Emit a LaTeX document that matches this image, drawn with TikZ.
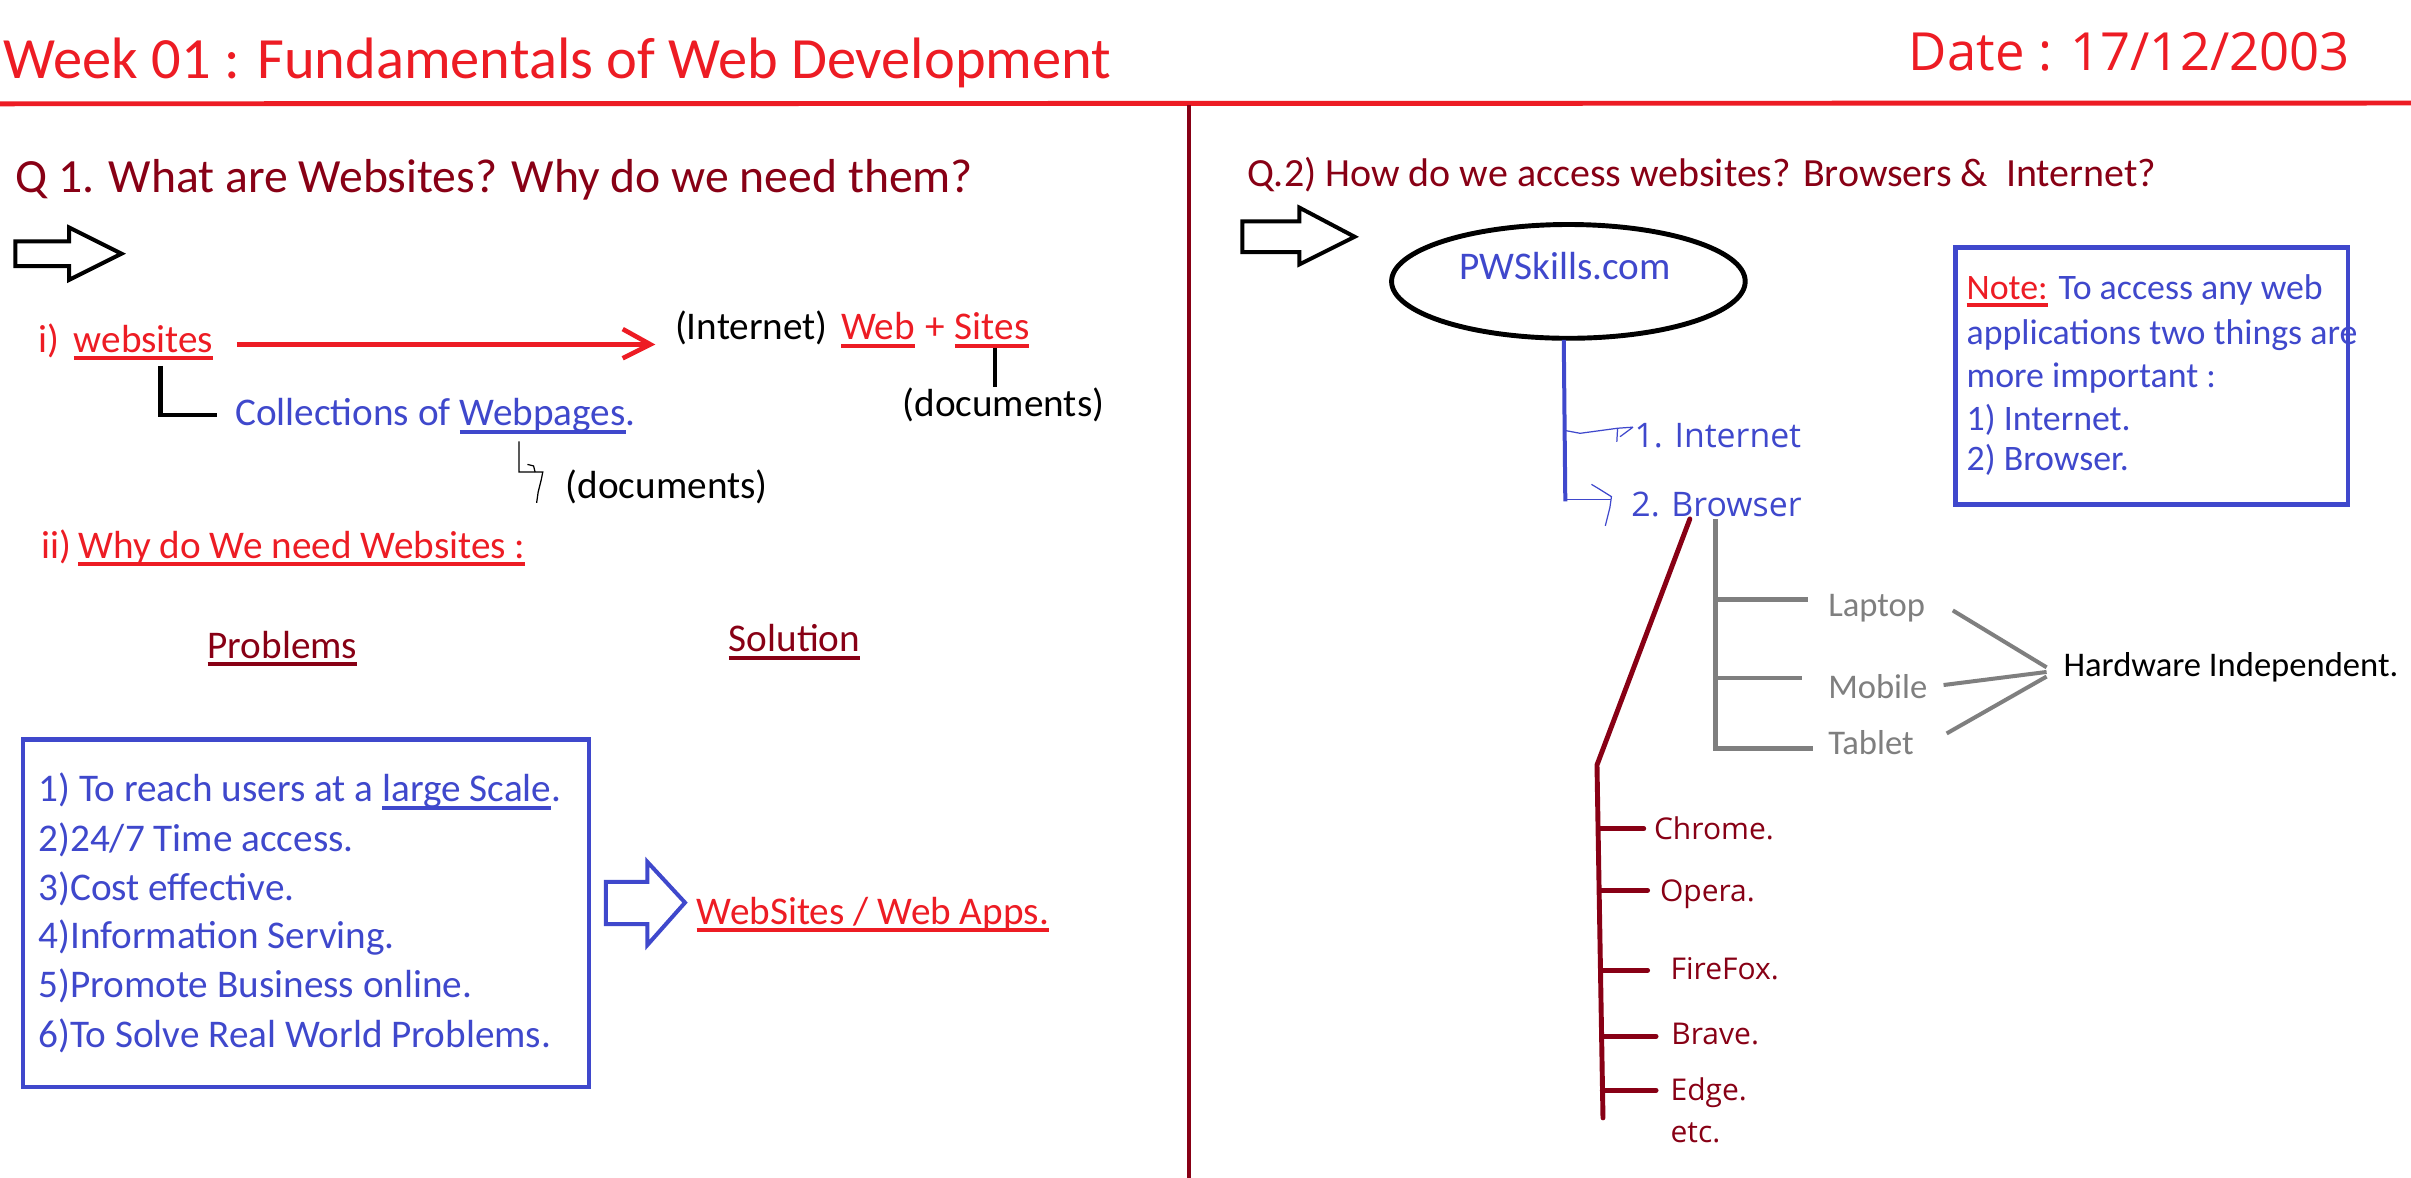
\documentclass[tikz,border=0pt]{standalone}
\usepackage{fontspec}
\setmainfont{Carlito}
\newfontfamily\seg{Open Sans}
\usetikzlibrary{shapes.geometric}
\definecolor{pred}{HTML}{ED1C24}
\definecolor{dred}{HTML}{880015}
\definecolor{pblue}{HTML}{3F48CC}
\definecolor{pgray}{HTML}{7F7F7F}
\newcommand\ulx[1]{\setbox0\hbox{#1}\rlap{\rule[-0.2em]{\wd0}{0.1em}}#1}
\begin{document}
\begin{tikzpicture}[x=1pt,y=-1pt,
  txt/.style={anchor=base west,inner sep=0pt,outer sep=0pt},
  body/.style={txt,font=\fontsize{25.5}{30}\selectfont},
  small/.style={txt,font=\fontsize{22.5}{27}\selectfont},
  brw/.style={txt,text=dred,font=\seg\fontsize{19.5}{23}\selectfont},
  outarrow/.style={line width=2.6pt,line join=miter},
  tree/.style={dred,line width=3.2pt,line cap=round},
  gtree/.style={pgray,line width=3pt},
  thin/.style={line width=0.8pt}]
\useasboundingbox (0,0) rectangle (1568,766);
\fill[white] (0,0) rectangle (1568,766);

% header
\node[txt,text=pred,font=\fontsize{38}{46}\selectfont] (title) at (2.5,51) {Week 01 : Fundamentals of Web Development};
\node[txt,text=pred,font=\seg\fontsize{34.2}{41}\selectfont] (date) at (1241.5,46) {Date : 17/12/2003};
\coordinate (hl) at (0,67.5); \coordinate (hr) at (1568,67);
\draw[pred,line width=3.2pt] (hl) -- (hr);
\coordinate (dt) at (773,68); \coordinate (db) at (773,766);
\draw[dred,line width=2.6pt] (dt) -- (db);

% ---------- left ----------
\node[txt,text=dred,font=\fontsize{31}{37}\selectfont] (q1) at (10,125.4) {Q 1. What are Websites? Why do we need them?};
\draw[outarrow] (10,157) -- (45,157) -- (45,148) -- (79,165) -- (45,182) -- (45,173) -- (10,173) -- cycle;

\node[body,text=pred] (i1) at (25,229) {i)};
\node[body,text=pred] (websites) at (48,229) {\ulx{websites}};
\coordinate (ras) at (154,224); \coordinate (rae) at (423,224);
\draw[pred,line width=3pt] (ras) -- (rae);
\draw[pred,line width=3pt,line join=miter] (405,214) -- (rae) -- (405,233);

\node[body] (internet) at (439,221) {(Internet)};
\node[body,text=pred] (web) at (547,221) {\ulx{Web}};
\node[body,text=pred] (plus) at (602,221) {+};
\node[body,text=pred] (sites) at (621,221) {\ulx{Sites}};
\coordinate (st) at (647,226); \coordinate (sb) at (647,252);
\draw[line width=2.6pt] (st) -- (sb);
\node[body] (doc1) at (587,271) {(documents)};

\coordinate (lt) at (104.5,238); \coordinate (lb) at (104.5,270); \coordinate (lr) at (141,270);
\draw[line width=3pt] (lt) -- (lb) -- (lr);
\node[body,text=pblue] (coll) at (153,277) {Collections of \ulx{Webpages}.};

\coordinate (sq1) at (337.6,287); \coordinate (sq2) at (349,327);
\draw[thin] (sq1) -- (337.6,307) -- (353,307) -- (352,312) -- (350,320) -- (sq2);
\draw[thin] (343,302) -- (347,303) -- (348,307);
\node[body] (doc2) at (368,324) {(documents)};

\node[body,text=pred] (ii) at (27,363) {ii)};
\node[body,text=pred] (why) at (51,363) {\ulx{Why do We need Websites :}};

\node[body,text=dred] (prob) at (135,428) {\ulx{Problems}};
\node[body,text=dred] (sol) at (474,424) {\ulx{Solution}};

\node[draw=pblue,line width=3pt,minimum width=368pt,minimum height=226pt,inner sep=0pt] (pbox) at (199,594) {};
\node[body,text=pblue] (p1) at (25,521.5) {1) To reach users at a \ulx{large Scale}.};
\node[body,text=pblue] (p2) at (25,554) {2)24/7 Time access.};
\node[body,text=pblue] (p3) at (25,585.5) {3)Cost effective.};
\node[body,text=pblue] (p4) at (25,617) {4)Information Serving.};
\node[body,text=pblue] (p5) at (25,649) {5)Promote Business online.};
\node[body,text=pblue] (p6) at (25,681) {6)To Solve Real World Problems.};

\draw[outarrow,pblue] (394,573.5) -- (421,573.5) -- (421,560.5) -- (445.5,587) -- (421,614.6) -- (421,601) -- (394,601) -- cycle;
\node[body,text=pred] (apps) at (453,601) {\ulx{WebSites / Web Apps.}};

% ---------- right ----------
\node[txt,text=dred,font=\fontsize{26}{31}\selectfont] (q2) at (811,121.6) {Q.2) How do we access websites? Browsers \&~ Internet?};
\draw[outarrow] (808,144) -- (845,144) -- (845,135) -- (881,154) -- (845,172) -- (845,164) -- (808,164) -- cycle;

\node[draw,ellipse,line width=3.2pt,minimum width=230pt,minimum height=74pt,inner sep=0pt] (pw) at (1020,183) {};
\node[body,text=pblue] (pwtext) at (949,182) {PWSkills.com};

\coordinate (bvt) at (1017,221); \coordinate (bvb) at (1018,326);
\draw[pblue,line width=2.6pt] (bvt) -- (bvb);
\node[txt,text=pblue,font=\seg\fontsize{22}{26}\selectfont] (inet) at (1063,291) {1. Internet};
\node[txt,text=pblue,font=\seg\fontsize{22}{26}\selectfont] (brow) at (1061,336) {2. Browser};
\draw[pblue,thin] (1018,280) -- (1027.6,281.8) -- (1052,278.5) -- (1062,277.8);
\draw[pblue,thin] (1052,278.5) -- (1051.5,287.3);
\draw[pblue,thin] (1062,277.8) -- (1053.6,284);
\draw[pblue,thin] (1018,325) -- (1048,325);
\draw[pblue,thin] (1035,315) -- (1040,318) -- (1048,323) -- (1047,330) -- (1044,342);

\node[draw=pblue,line width=3.2pt,minimum width=255pt,minimum height=167pt,inner sep=0pt] (note) at (1399.5,244.5) {};
\node[small,text=pblue,font=\fontsize{23.3}{27}\selectfont] (n1) at (1279,195) {\textcolor{pred}{\ulx{Note:}} To access any web};
\node[small,text=pblue,font=\fontsize{23.3}{27}\selectfont] (n2) at (1279,224) {applications two things are};
\node[small,text=pblue,font=\fontsize{23.3}{27}\selectfont] (n3) at (1279,252) {more important :};
\node[small,text=pblue,font=\fontsize{23.3}{27}\selectfont] (n4) at (1279,280) {1) Internet.};
\node[small,text=pblue,font=\fontsize{23.3}{27}\selectfont] (n5) at (1279,306) {2) Browser.};

% gray device tree
\coordinate (gt) at (1115.5,337.7); \coordinate (gb) at (1115.5,486.6);
\draw[gtree] (gt) -- (gb) -- (1179,486.6);
\draw[gtree] (1115.5,390) -- (1176,390);
\draw[gtree] (1115.5,441) -- (1172,441);
\node[small,text=pgray] (laptop) at (1189,401) {Laptop};
\node[small,text=pgray] (mobile) at (1189,454) {Mobile};
\node[small,text=pgray] (tablet) at (1189,490.5) {Tablet};
\coordinate (hw) at (1331,437);
\draw[pgray,line width=2.6pt] (1270,397) -- (1331,434);
\draw[pgray,line width=2.6pt] (1264,445.5) -- (hw);
\draw[pgray,line width=2.6pt] (1266,477) -- (1331,440);
\node[small] (hard) at (1342,440) {Hardware Independent.};

% browser tree
\coordinate (bt0) at (1099,337.5); \coordinate (bt1) at (1038.6,497.5); \coordinate (bt2) at (1042.5,727);
\draw[tree,line join=round] (bt0) -- (bt1) -- (bt2);
\draw[tree] (1040,539) -- (1069,539);
\draw[tree] (1040.5,579) -- (1071.5,579);
\draw[tree] (1041,631) -- (1071.5,631);
\draw[tree] (1042,674) -- (1077,674);
\draw[tree] (1042,709) -- (1077,709);
\node[brw] (chrome) at (1075.7,546) {Chrome.};
\node[brw] (opera) at (1079.6,586.5) {Opera.};
\node[brw] (firefox) at (1086.5,637) {FireFox.};
\node[brw] (brave) at (1087,679.6) {Brave.};
\node[brw] (edge) at (1086.5,716) {Edge.};
\node[brw] (etc) at (1086.5,742.7) {etc.};
\end{tikzpicture}
\end{document}
